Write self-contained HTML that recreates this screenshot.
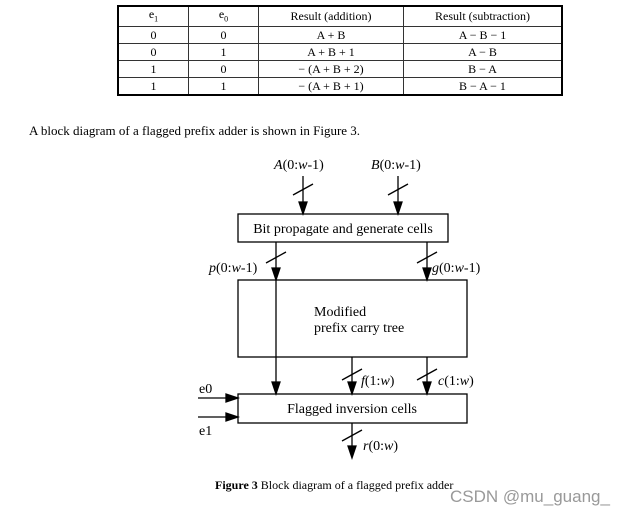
<!DOCTYPE html>
<html><head><meta charset="utf-8"><style>
body{margin:0;background:#fff;width:637px;height:516px;overflow:hidden;position:relative;font-family:"Liberation Serif",serif;}
table{position:absolute;left:117px;top:5px;width:446px;border-collapse:collapse;border:2px solid #000;font-size:12px;}
td{border:1px solid #333;text-align:center;height:16px;padding:0;line-height:15px;}
.t{position:absolute;white-space:nowrap;}
</style></head><body>
<table>
<tr><td style="width:69px">e<sub style="font-size:8px">1</sub></td><td style="width:69px">e<sub style="font-size:8px">0</sub></td><td style="width:144px">Result (addition)</td><td>Result (subtraction)</td></tr>
<tr><td>0</td><td>0</td><td>A + B</td><td>A − B − 1</td></tr>
<tr><td>0</td><td>1</td><td>A + B + 1</td><td>A − B</td></tr>
<tr><td>1</td><td>0</td><td>− (A + B + 2)</td><td>B − A</td></tr>
<tr><td>1</td><td>1</td><td>− (A + B + 1)</td><td>B − A − 1</td></tr>
</table>
<div class="t" style="left:29px;top:123px;font-size:13px">A block diagram of a flagged prefix adder is shown in Figure 3.</div>
<svg width="637" height="516" style="position:absolute;left:0;top:0" font-family="Liberation Serif, serif" font-size="14">
<defs><marker id="a" markerWidth="8" markerHeight="12" refX="4" refY="12" orient="auto-start-reverse" markerUnits="userSpaceOnUse"><path d="M0,0 L8,0 L4,12 z" fill="#000"/></marker></defs>
<g stroke="#000" stroke-width="1.3" fill="none">
<rect x="238" y="214" width="210" height="28"/>
<rect x="238" y="280" width="229" height="77"/>
<rect x="238" y="394" width="229" height="29"/>
</g>
<g stroke="#000" stroke-width="1.3">
<line x1="303" y1="176" x2="303" y2="202"/><path d="M299,214 L307,214 L303,202z" fill="#000" transform="rotate(180 303 208)"/>
<line x1="398" y1="176" x2="398" y2="202"/><path d="M394,202 L402,202 L398,214z" fill="#000"/>
<line x1="293" y1="195" x2="313" y2="184"/><line x1="388" y1="195" x2="408" y2="184"/>
<line x1="276" y1="242" x2="276" y2="382"/><path d="M272,382 L280,382 L276,394z" fill="#000"/>
<path d="M272,268 L280,268 L276,280z" fill="#000"/>
<line x1="266" y1="263" x2="286" y2="252"/>
<line x1="427" y1="242" x2="427" y2="268"/><path d="M423,268 L431,268 L427,280z" fill="#000"/>
<line x1="417" y1="263" x2="437" y2="252"/>
<line x1="352" y1="357" x2="352" y2="382"/><path d="M348,382 L356,382 L352,394z" fill="#000"/>
<line x1="342" y1="380" x2="362" y2="369"/>
<line x1="427" y1="357" x2="427" y2="382"/><path d="M423,382 L431,382 L427,394z" fill="#000"/>
<line x1="417" y1="380" x2="437" y2="369"/>
<line x1="352" y1="423" x2="352" y2="446"/><path d="M348,446 L356,446 L352,458z" fill="#000"/>
<line x1="342" y1="441" x2="362" y2="430"/>
<line x1="198" y1="398" x2="226" y2="398"/><path d="M226,394 L226,402 L238,398z" fill="#000"/>
<line x1="198" y1="417" x2="226" y2="417"/><path d="M226,413 L226,421 L238,417z" fill="#000"/>
</g>
<path d="M299,202 L307,202 L303,214z" fill="#000"/>
<text x="274" y="169" font-style="italic">A<tspan font-style="normal">(0:</tspan>w<tspan font-style="normal">-1)</tspan></text>
<text x="371" y="169" font-style="italic">B<tspan font-style="normal">(0:</tspan>w<tspan font-style="normal">-1)</tspan></text>
<text x="343" y="233" text-anchor="middle">Bit propagate and generate cells</text>
<text x="209" y="272" font-style="italic">p<tspan font-style="normal">(0:</tspan>w<tspan font-style="normal">-1)</tspan></text>
<text x="432" y="272" font-style="italic">g<tspan font-style="normal">(0:</tspan>w<tspan font-style="normal">-1)</tspan></text>
<text x="314" y="316">Modified</text>
<text x="314" y="332">prefix carry tree</text>
<text x="361" y="385" font-style="italic">f<tspan font-style="normal">(1:</tspan>w<tspan font-style="normal">)</tspan></text>
<text x="438" y="385" font-style="italic">c<tspan font-style="normal">(1:</tspan>w<tspan font-style="normal">)</tspan></text>
<text x="352" y="413" text-anchor="middle">Flagged inversion cells</text>
<text x="199" y="393">e0</text>
<text x="199" y="435">e1</text>
<text x="363" y="450" font-style="italic">r<tspan font-style="normal">(0:</tspan>w<tspan font-style="normal">)</tspan></text>
<text x="215" y="489" font-size="12"><tspan font-weight="bold">Figure 3</tspan>  Block diagram of a flagged prefix adder</text>
<text x="450" y="502" font-family="Liberation Sans, sans-serif" font-size="17" fill="#999">CSDN @mu_guang_</text>
</svg>
</body></html>
